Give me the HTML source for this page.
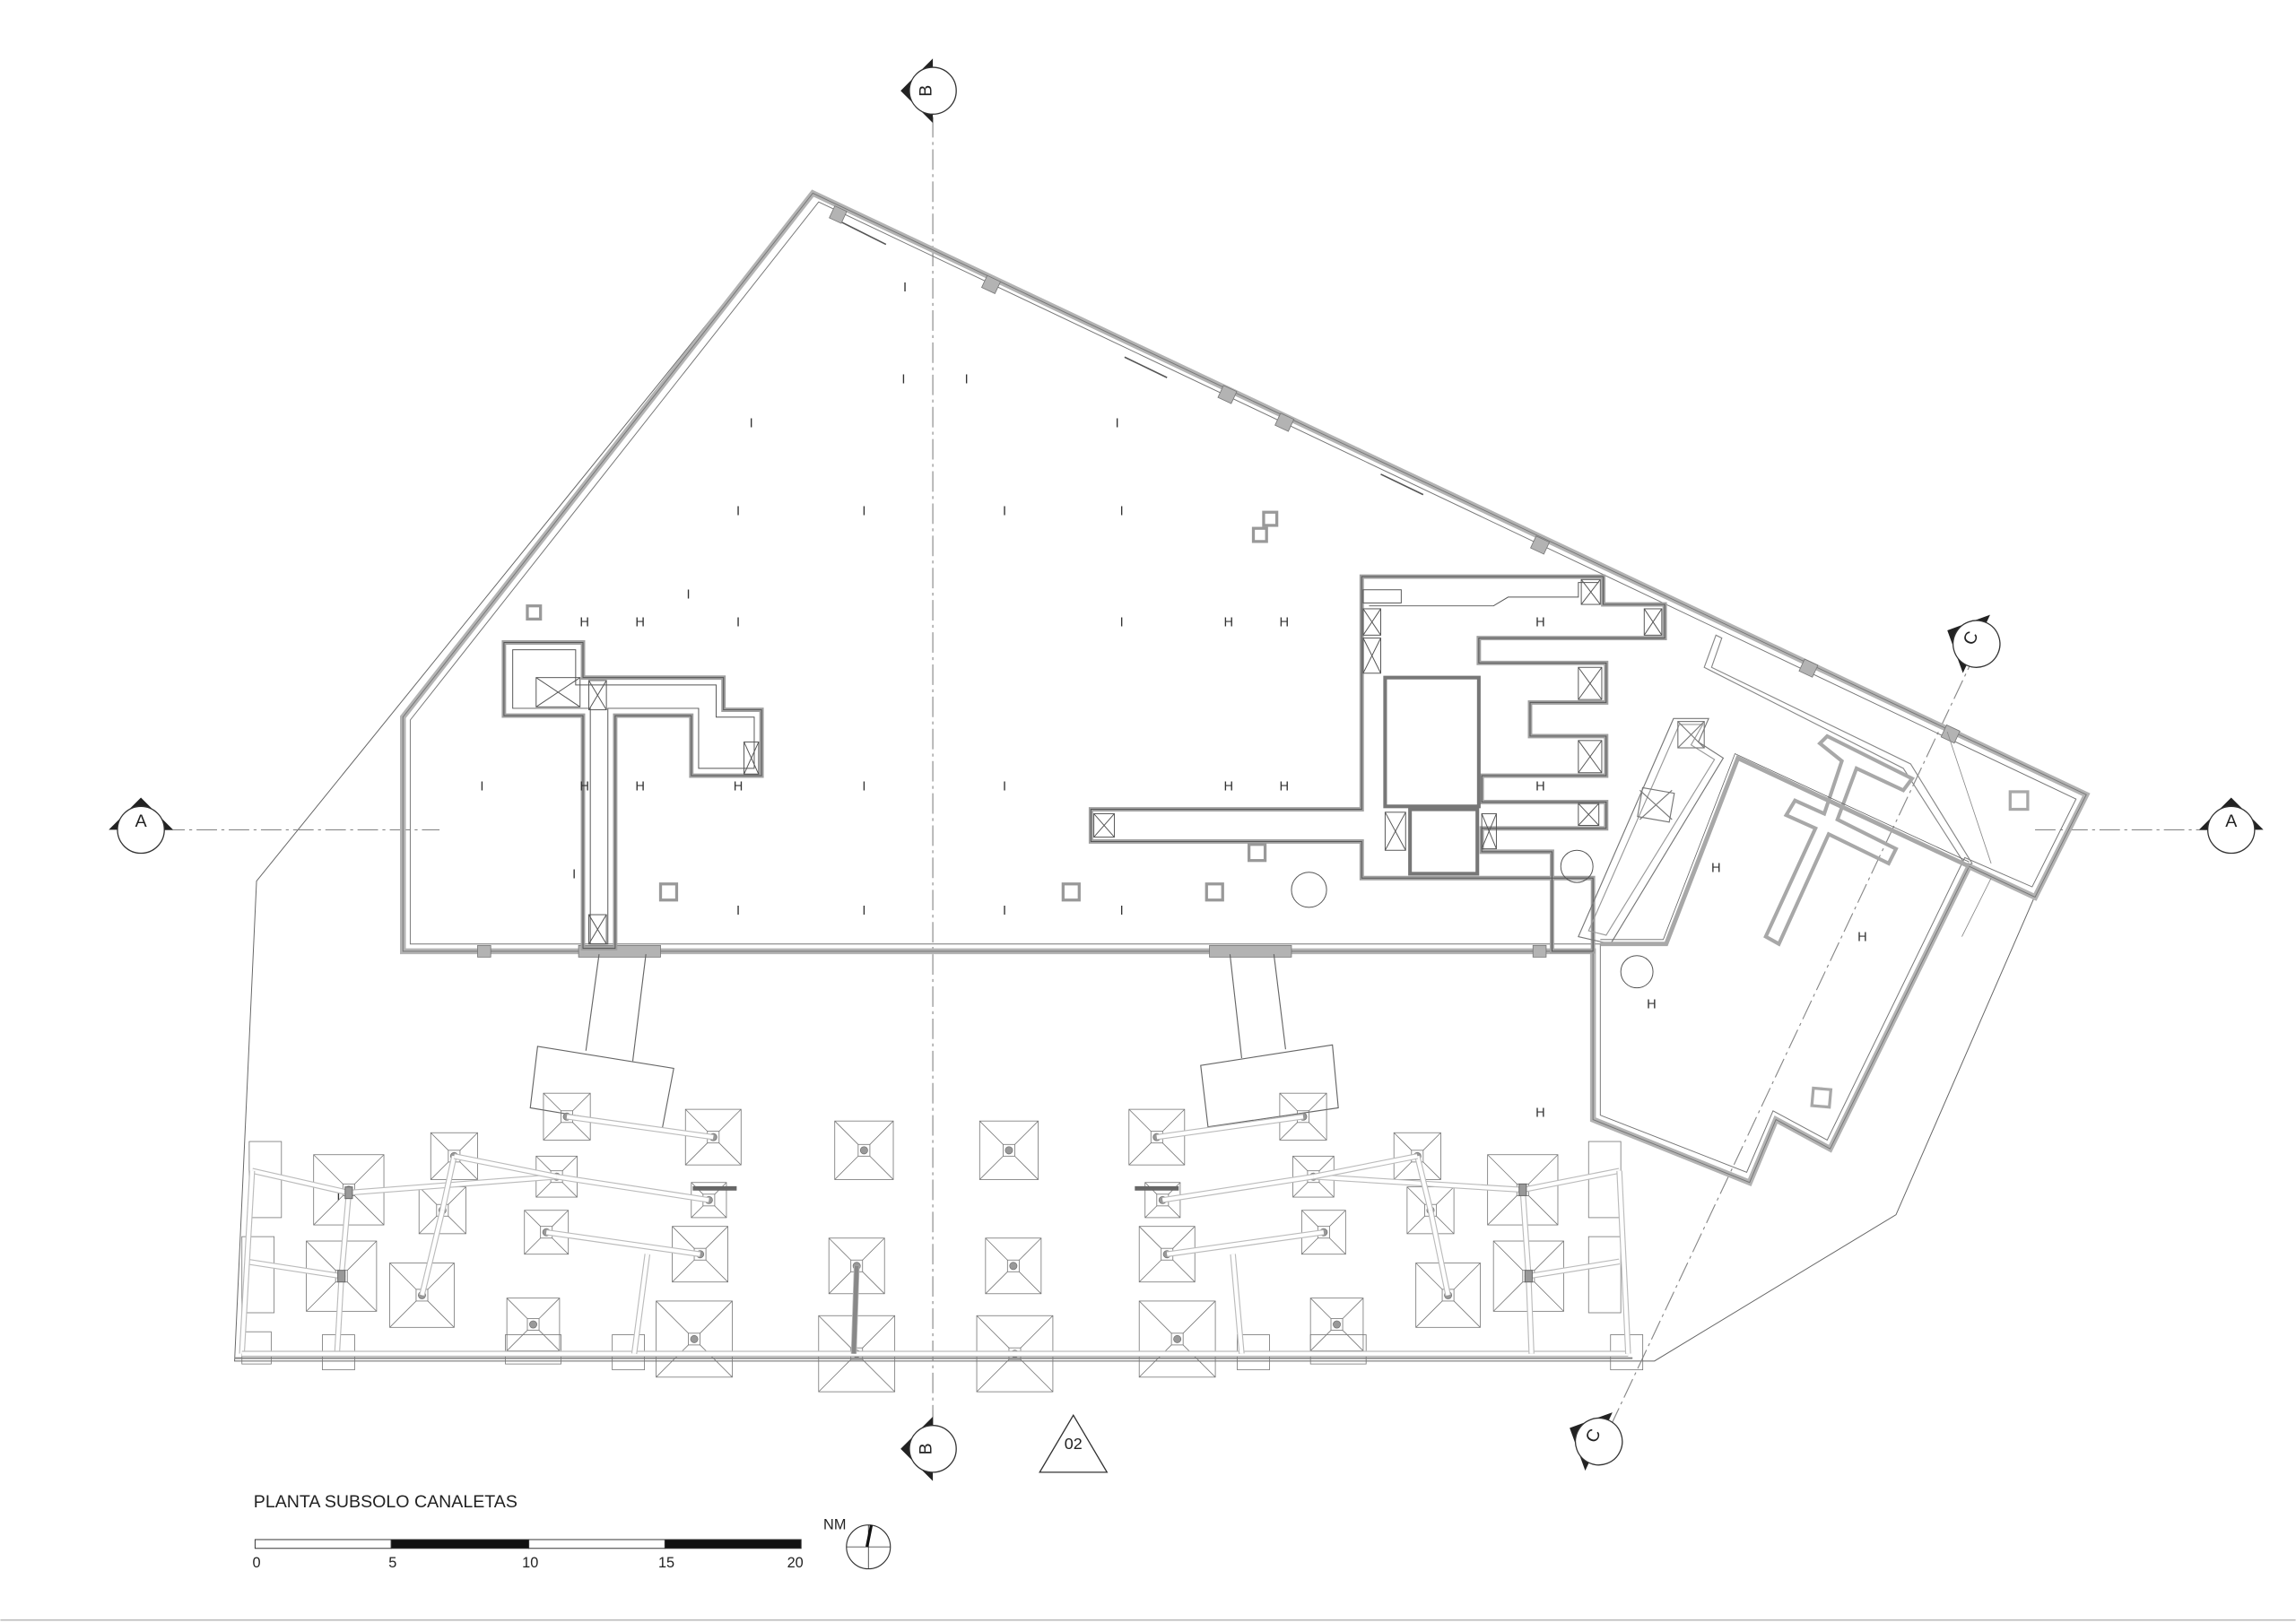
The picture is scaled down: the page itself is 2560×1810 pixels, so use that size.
<!DOCTYPE html>
<html><head><meta charset="utf-8">
<style>
html,body{margin:0;padding:0;background:#fff;width:2560px;height:1810px;overflow:hidden}
svg{display:block}
text{font-family:"Liberation Sans",sans-serif}
</style></head>
<body>
<svg id="s" width="2560" height="1810" viewBox="0 0 1568 1109" xmlns="http://www.w3.org/2000/svg">
<defs>
 <g id="mk">
  <polygon points="-22,0 0,-22 22,0" fill="#222"/>
  <circle cx="0" cy="0" r="16" fill="#fff" stroke="#333" stroke-width="0.8"/>
 </g>
</defs>
<g fill="none" stroke="#666" stroke-width="0.6">
 <polyline points="555,132 175,602 160,930 1130,930 1295,830 1390,612"/>
 <line x1="160" y1="928" x2="1115" y2="928" stroke="#888" stroke-width="1.2"/>
</g>
<!-- axes -->
<g stroke="#888" stroke-width="0.7" stroke-dasharray="14,3,2,3" fill="none">
 <line x1="637" y1="80" x2="637" y2="975"/>
 <line x1="112" y1="567" x2="300" y2="567"/>
 <line x1="1390" y1="567" x2="1508" y2="567"/>
 <line x1="1350" y1="445" x2="1095" y2="985"/>
</g>
<!-- main wall -->
<g fill="none" stroke="#b3b3b3" stroke-width="4" stroke-linejoin="miter">
 <polygon points="555,132 1425,543 1390,613 1345,592 1250,785 1213,765 1195,808 1088,765 1088,650 275,650 275,490"/>
</g>
<g fill="none" stroke="#777" stroke-width="0.6">
 <polygon points="555,132 1425,543 1390,613 1345,592 1250,785 1213,765 1195,808 1088,765 1088,650 275,650 275,490"/>
 <polygon points="559,138 1418,546 1388,606 1342,586 1248,779 1211,759 1193,801 1093,762 1093,645 280,645 280,492"/>
</g>
<g fill="#b3b3b3" stroke="#777" stroke-width="0.5">
 <rect x="395" y="646" width="56" height="8"/><rect x="826" y="646" width="56" height="8"/>
 <rect x="326" y="646" width="9" height="8"/><rect x="1047" y="646" width="9" height="8"/>
 <rect x="568" y="142" width="9" height="9" transform="rotate(25 572 146)"/>
 <rect x="672" y="190" width="10" height="9" transform="rotate(25 677 194)"/>
 <rect x="833" y="265" width="10" height="9" transform="rotate(25 838 270)"/>
 <rect x="872" y="284" width="10" height="9" transform="rotate(25 877 289)"/>
 <rect x="1047" y="368" width="10" height="9" transform="rotate(25 1052 372)"/>
 <rect x="1230" y="452" width="10" height="9" transform="rotate(25 1235 457)"/>
 <rect x="1327" y="497" width="10" height="9" transform="rotate(25 1332 502)"/>
</g>
<g stroke="#555" stroke-width="1"><line x1="575" y1="152" x2="605" y2="167"/><line x1="768" y1="244" x2="797" y2="258"/><line x1="943" y1="324" x2="972" y2="338"/></g>
<!-- left core -->
<g fill="none" stroke="#a0a0a0" stroke-width="3">
 <polygon points="344,439 398,439 398,463 494,463 494,485 520,485 520,530 472,530 472,489 420,489 420,648 398,648 398,489 344,489"/>
</g>
<g fill="none" stroke="#555" stroke-width="0.6">
 <polygon points="344,439 398,439 398,463 494,463 494,485 520,485 520,530 472,530 472,489 420,489 420,648 398,648 398,489 344,489"/>
 <polygon points="350,444 393,444 393,468 489,468 489,490 515,490 515,525 477,525 477,484 415,484 415,645 403,645 403,484 350,484"/>
 <rect x="366" y="463" width="30" height="20"/><line x1="366" y1="463" x2="396" y2="483"/><line x1="396" y1="463" x2="366" y2="483"/>
 <rect x="402" y="465" width="12" height="20"/><line x1="402" y1="465" x2="414" y2="485"/><line x1="414" y1="465" x2="402" y2="485"/>
 <rect x="508" y="507" width="10" height="22"/><line x1="508" y1="507" x2="518" y2="529"/><line x1="518" y1="507" x2="508" y2="529"/>
 <rect x="402" y="625" width="12" height="20"/><line x1="402" y1="625" x2="414" y2="645"/><line x1="414" y1="625" x2="402" y2="645"/>
</g>
<!-- right core -->
<g fill="none" stroke="#a0a0a0" stroke-width="3">
 <polygon points="930,394 1095,394 1095,413 1137,413 1137,436 1010,436 1010,453 1097,453 1097,480 1045,480 1045,503 1097,503 1097,530 1012,530 1012,548 1097,548 1097,566 1012,566 1012,582 1060,582 1060,650 1088,650 1088,600 930,600 930,575 745,575 745,553 930,553"/>
</g>
<g fill="none" stroke="#555" stroke-width="0.6">
 <polygon points="930,394 1095,394 1095,413 1137,413 1137,436 1010,436 1010,453 1097,453 1097,480 1045,480 1045,503 1097,503 1097,530 1012,530 1012,548 1097,548 1097,566 1012,566 1012,582 1060,582 1060,650 1088,650 1088,600 930,600 930,575 745,575 745,553 930,553"/>
 <rect x="946" y="463" width="64" height="88" stroke-width="2.5" stroke="#777"/>
 <rect x="963" y="553" width="46" height="44" stroke-width="2.5" stroke="#777"/>
 <polyline points="935,414 1020,414 1030,408 1078,408 1078,398 1092,398"/>
 <rect x="1080" y="396" width="13" height="17"/><line x1="1080" y1="396" x2="1093" y2="413"/><line x1="1093" y1="396" x2="1080" y2="413"/>
 <rect x="1123" y="416" width="12" height="18"/><line x1="1123" y1="416" x2="1135" y2="434"/><line x1="1135" y1="416" x2="1123" y2="434"/>
 <rect x="1078" y="456" width="16" height="22"/><line x1="1078" y1="456" x2="1094" y2="478"/><line x1="1094" y1="456" x2="1078" y2="478"/>
 <rect x="1078" y="506" width="16" height="22"/><line x1="1078" y1="506" x2="1094" y2="528"/><line x1="1094" y1="506" x2="1078" y2="528"/>
 <rect x="1078" y="549" width="14" height="15"/><line x1="1078" y1="549" x2="1092" y2="564"/><line x1="1092" y1="549" x2="1078" y2="564"/>
 <rect x="931" y="416" width="12" height="18"/><line x1="931" y1="416" x2="943" y2="434"/><line x1="943" y1="416" x2="931" y2="434"/>
 <rect x="931" y="436" width="12" height="24"/><line x1="931" y1="436" x2="943" y2="460"/><line x1="943" y1="436" x2="931" y2="460"/>
 <rect x="946" y="555" width="14" height="26"/><line x1="946" y1="555" x2="960" y2="581"/><line x1="960" y1="555" x2="946" y2="581"/>
 <rect x="1012" y="556" width="10" height="24"/><line x1="1012" y1="556" x2="1022" y2="580"/><line x1="1022" y1="556" x2="1012" y2="580"/>
 <rect x="747" y="556" width="14" height="16"/><line x1="747" y1="556" x2="761" y2="572"/><line x1="761" y1="556" x2="747" y2="572"/>
 <rect x="931" y="403" width="26" height="9"/>
 <circle cx="1077" cy="592" r="11"/><circle cx="894" cy="608" r="12"/><circle cx="1118" cy="664" r="11"/>
</g>
<!-- right wing -->
<g fill="none" stroke="#777" stroke-width="0.7">
 <polygon points="1143,491 1167,491 1160,507 1177,518 1100,645 1078,640"/>
 <polygon points="1147,495 1163,495 1155,509 1171,519 1097,639 1085,636" stroke="#999"/>
 <rect x="1146" y="493" width="18" height="18"/><line x1="1146" y1="493" x2="1164" y2="511"/><line x1="1164" y1="493" x2="1146" y2="511"/>
 <rect x="1120" y="540" width="22" height="20" transform="rotate(10 1131 550)"/><line x1="1120" y1="540" x2="1142" y2="560"/><line x1="1142" y1="540" x2="1120" y2="560"/>
 <polygon points="1172,434 1164,456 1300,525 1343,592 1347,590 1305,522 1169,456 1176,436" stroke="#888"/>
 <line x1="1330" y1="500" x2="1360" y2="590" stroke="#888" stroke-width="0.5"/>
 <line x1="1360" y1="600" x2="1340" y2="640" stroke="#888" stroke-width="0.5"/>
</g>
<g fill="none" stroke="#a8a8a8" stroke-width="3">
 <polyline points="1093,645 1138,645 1187,518 1345,592"/>
 <polygon points="1243,508 1248,503 1306,532 1300,540 1268,525 1255,560 1295,580 1290,590 1249,570 1215,645 1206,640 1240,566 1220,557 1226,547 1246,556 1258,520" stroke-width="2.5"/>
 <rect x="1238" y="744" width="12" height="12" stroke-width="2" transform="rotate(5 1244 750)"/>
 <rect x="1373" y="541" width="12" height="12" stroke-width="2"/>
</g>
<g fill="none" stroke="#666" stroke-width="0.5">
 <polyline points="1093,642 1136,642 1185,515 1345,589"/>
</g>
<!-- small squares main -->
<g fill="none" stroke="#999" stroke-width="2">
 <rect x="360" y="414" width="9" height="9"/><rect x="863" y="350" width="9" height="9"/><rect x="856" y="361" width="9" height="9"/>
 <rect x="451" y="604" width="11" height="11"/><rect x="726" y="604" width="11" height="11"/><rect x="824" y="604" width="11" height="11"/><rect x="853" y="577" width="11" height="11"/>
</g>
<g id="marks" font-size="9" fill="#333" text-anchor="middle"></g>
<!-- ramps to parking -->
<g fill="none" stroke="#666" stroke-width="0.7">
 <line x1="409" y1="652" x2="400" y2="718"/><line x1="441" y1="652" x2="432" y2="725"/>
 <polygon points="367,715 460,730 452,772 362,757"/>
 <line x1="840" y1="652" x2="848" y2="723"/><line x1="870" y1="652" x2="878" y2="717"/>
 <polygon points="820,728 910,714 914,757 825,770"/>
</g>
<g id="caps" fill="none" stroke="#777" stroke-width="0.5"></g>
<g id="beams" fill="none" stroke="#999" stroke-width="0.6"></g>
<!-- section markers -->
<use href="#mk" transform="translate(96,567)"/>
<use href="#mk" transform="translate(1524,567)"/>
<use href="#mk" transform="translate(637,62) rotate(-90)"/>
<use href="#mk" transform="translate(637,990) rotate(-90)"/>
<use href="#mk" transform="translate(1350,440) rotate(-65)"/>
<use href="#mk" transform="translate(1092,985) rotate(-65)"/>
<g font-size="12" fill="#222" text-anchor="middle">
 <text x="96" y="565">A</text><text x="1524" y="565">A</text>
 <text x="632" y="66" transform="rotate(-90 632 62)">B</text>
 <text x="632" y="994" transform="rotate(-90 632 990)">B</text>
 <text x="1346" y="440" transform="rotate(-65 1346 436)">C</text>
 <text x="1088" y="985" transform="rotate(-65 1088 981)">C</text>
</g>
<!-- 02 triangle -->
<polygon points="733,967 710,1006 756,1006" fill="none" stroke="#333" stroke-width="0.8"/>
<text x="733" y="990" font-size="11" text-anchor="middle" fill="#222">02</text>
<!-- title and scale -->
<text x="173" y="1030" font-size="12" fill="#222">PLANTA SUBSOLO CANALETAS</text>
<g stroke="#333" stroke-width="0.6">
 <rect x="174" y="1052" width="93" height="6" fill="#fff"/><rect x="267" y="1052" width="94" height="6" fill="#111"/>
 <rect x="361" y="1052" width="93" height="6" fill="#fff"/><rect x="454" y="1052" width="93" height="6" fill="#111"/>
</g>
<g font-size="10" fill="#222" text-anchor="middle">
 <text x="175" y="1071">0</text><text x="268" y="1071">5</text><text x="362" y="1071">10</text><text x="455" y="1071">15</text><text x="543" y="1071">20</text>
 <text x="570" y="1045">NM</text>
</g>
<circle cx="593" cy="1057" r="15" fill="none" stroke="#333" stroke-width="0.7"/>
<line x1="578" y1="1057" x2="608" y2="1057" stroke="#333" stroke-width="0.5"/>
<line x1="593" y1="1042" x2="593" y2="1072" stroke="#333" stroke-width="0.5"/>
<line x1="592" y1="1057" x2="595" y2="1042" stroke="#111" stroke-width="2"/>
<line x1="0" y1="1107" x2="1568" y2="1107" stroke="#bbb" stroke-width="1"/>
<script>
var NS="http://www.w3.org/2000/svg";
function el(p,t,a){var e=document.createElementNS(NS,t);for(var k in a)e.setAttribute(k,a[k]);p.appendChild(e);return e;}
var caps=document.getElementById('caps');
var C=[[387,763,32],[487,777,38],[590,786,40],[689,786,40],[790,777,38],[890,763,32],
[310,790,32],[238,813,48],[380,804,28],[484,820,24],[302,827,32],[794,820,24],[897,804,28],[968,790,32],[1040,813,48],[977,827,32],
[373,842,30],[478,857,38],[233,872,48],[585,865,38],[692,865,38],[797,857,38],[904,842,30],[1044,872,48],
[288,885,44],[364,905,36],[474,915,52],[585,925,52],[693,925,52],[804,915,52],[913,905,36],[989,885,44]];
C.forEach(function(c){var x=c[0],y=c[1],h=c[2]/2;
el(caps,'rect',{x:x-h,y:y-h,width:2*h,height:2*h});
el(caps,'rect',{x:x-4,y:y-4,width:8,height:8});
el(caps,'path',{d:'M'+(x-h)+','+(y-h)+'L'+(x-4)+','+(y-4)+'M'+(x+h)+','+(y-h)+'L'+(x+4)+','+(y-4)+'M'+(x-h)+','+(y+h)+'L'+(x-4)+','+(y+4)+'M'+(x+h)+','+(y+h)+'L'+(x+4)+','+(y+4)});
el(caps,'circle',{cx:x,cy:y,r:2.5,fill:'#999'});});
[[170,780,22,52],[165,845,22,52],[1085,780,22,52],[1085,845,22,52],[165,910,20,22],[220,912,22,24],[418,912,22,24],[345,912,38,20],[845,912,22,24],[895,912,38,20],[1100,912,22,24]].forEach(function(r){el(caps,'rect',{x:r[0],y:r[1],width:r[2],height:r[3]});});
var b=document.getElementById('beams');
var L=[[172,800,238,815],[238,815,380,804],[310,790,302,827],[302,827,288,885],[168,862,233,872],[238,815,233,872],[233,872,230,925],[172,800,165,925],[165,925,1112,925],[310,790,380,804],[380,804,484,820],[387,763,487,777],[373,842,478,857],[442,857,433,925],[585,865,583,925],[1106,800,1040,813],[1040,813,897,804],[968,790,977,827],[977,827,989,885],[1106,862,1044,872],[1040,813,1044,872],[1044,872,1046,925],[1106,800,1112,925],[968,790,897,804],[897,804,794,820],[890,763,790,777],[904,842,797,857],[842,857,848,925]];
L.forEach(function(l){el(b,'line',{x1:l[0],y1:l[1],x2:l[2],y2:l[3],'stroke-width':4,stroke:'#bbb'});el(b,'line',{x1:l[0],y1:l[1],x2:l[2],y2:l[3],'stroke-width':2.6,stroke:'#fff'});});
el(b,'line',{x1:585,y1:865,x2:583,y2:925,stroke:'#888','stroke-width':3});
[[473,812,503,812],[775,812,805,812]].forEach(function(l){el(b,'line',{x1:l[0],y1:l[1],x2:l[2],y2:l[3],stroke:'#666','stroke-width':3});});
[[238,815],[233,872],[1040,813],[1044,872]].forEach(function(p){el(b,'rect',{x:p[0]-2.5,y:p[1]-4,width:5,height:8,fill:'#999',stroke:'#666'});});
var m=document.getElementById('marks');
var I=[[618,196],[617,259],[660,259],[513,289],[763,289],[504,349],[590,349],[686,349],[766,349],[470,406],[504,425],[766,425],[329,537],[590,537],[686,537],[392,597],[504,622],[590,622],[686,622],[766,622],[231,817]];
var H=[[399,425],[437,425],[839,425],[877,425],[1052,425],[399,537],[437,537],[504,537],[839,537],[877,537],[1052,537],[1172,593],[1272,640],[1128,686],[1052,760]];
I.forEach(function(p){var t=el(m,'text',{x:p[0],y:p[1]+3});t.textContent='I';});
H.forEach(function(p){var t=el(m,'text',{x:p[0],y:p[1]+3});t.textContent='H';});
</script>
</svg>
</body></html>
